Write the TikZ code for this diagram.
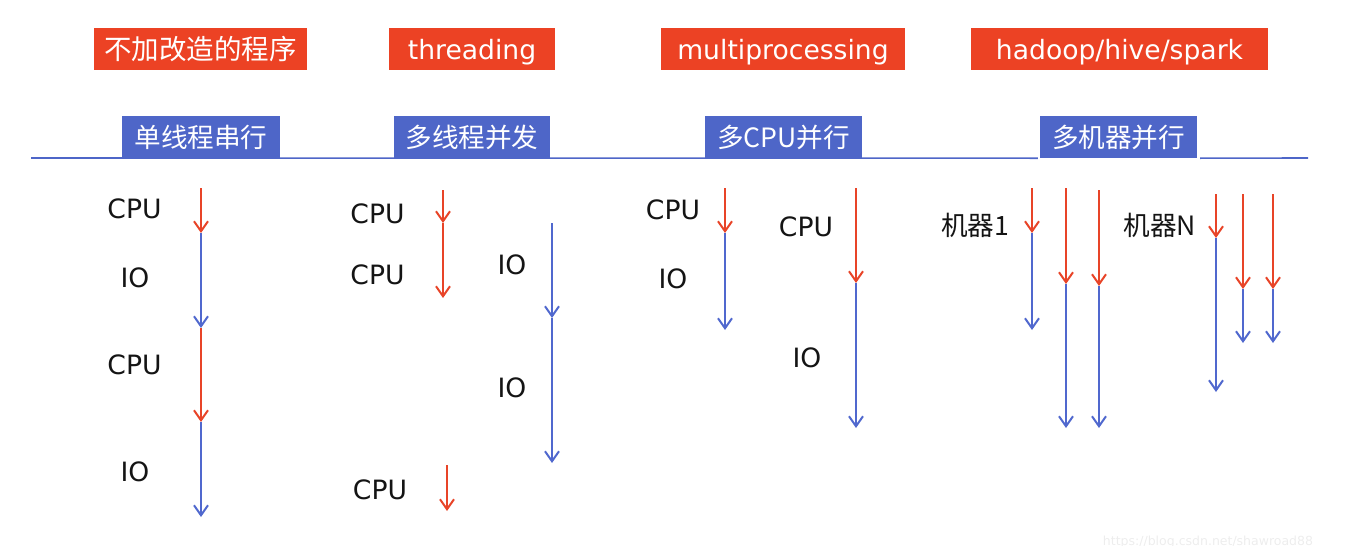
\documentclass[tikz,border=0pt]{standalone}
\usepackage{fontspec}
\setmainfont{DejaVu Sans}
\newfontfamily\cjk{Noto Sans CJK SC}
\usetikzlibrary{arrows.meta,positioning}
\definecolor{tagred}{RGB}{236,66,36}
\definecolor{modeblue}{RGB}{78,102,200}
\definecolor{cpured}{RGB}{232,68,40}
\definecolor{ioblue}{RGB}{80,104,206}
\definecolor{inkgrey}{RGB}{20,20,20}
\tikzset{
  base/.style={font=\fontsize{26.6}{30}\selectfont, inner sep=0pt, text=inkgrey},
  tag/.style={base, rectangle, fill=tagred, text=white, minimum height=42pt, text depth=0pt},
  tagcn/.style={base, rectangle, fill=tagred, text=white, minimum height=42pt, font=\fontsize{27.5}{30}\selectfont\cjk},
  mode/.style={base, rectangle, fill=modeblue, text=white, minimum height=42pt, font=\fontsize{26.6}{30}\selectfont\cjk},
  lbl/.style={base},
  cn/.style={base, font=\fontsize{26.6}{30}\selectfont\cjk},
  tip/.style={-{Straight Barb[length=10pt,width=14pt]}, line width=2pt},
  cpu/.style={tip, draw=cpured},
  io/.style={tip, draw=ioblue},
  rule/.style={draw=modeblue, line width=1.6pt},
  wmark/.style={font=\fontsize{12.5}{14}\selectfont, text=black!7, inner sep=0pt},
}
\begin{document}
\begin{tikzpicture}[x=1pt,y=-1pt]
  \useasboundingbox (0,0) rectangle (1350,546);
  % headers
  \node[tagcn, minimum width=213pt] (t1) at (200.5,49) {不加改造的程序};
  \node[tag, minimum width=166pt] (t2) at (472,49) {threading};
  \node[tag, minimum width=244pt] (t3) at (783,49) {multiprocessing};
  \node[tag, minimum width=297pt] (t4) at (1119.5,49) {hadoop/hive/spark};
  % modes
  \node[mode, minimum width=158pt] (m1) at (201,137) {单线程串行};
  \node[mode, minimum width=156pt] (m2) at (472,137) {多线程并发};
  \node[mode, minimum width=157pt] (m3) at (783.5,137) {多CPU并行};
  \node[mode, minimum width=157pt] (m4) at (1118.5,137) {多机器并行};
  \draw[rule] (31,158) -- ([xshift=-2pt]m4.south west);
  \draw[rule] ([xshift=3pt]m4.south east) -- (1308,158);
  % labels
  \node[lbl] (c1a) at (134.5,209) {CPU};
  \node[lbl] (c1b) at (135,278) {IO};
  \node[lbl] (c1c) at (134.5,365) {CPU};
  \node[lbl] (c1d) at (135,472) {IO};
  \node[lbl] (c2a) at (377.5,214) {CPU};
  \node[lbl] (c2b) at (377.5,275) {CPU};
  \node[lbl] (c2c) at (380,490) {CPU};
  \node[lbl] (c2d) at (512,264.5) {IO};
  \node[lbl] (c2e) at (512,388) {IO};
  \node[lbl] (c3a) at (673,210) {CPU};
  \node[lbl] (c3b) at (673,279) {IO};
  \node[lbl] (c3c) at (806,227) {CPU};
  \node[lbl] (c3d) at (807,358) {IO};
  \node[cn] (c4a) at (975,225) {机器1};
  \node[cn] (c4b) at (1160,225) {机器N};
  % timelines
  \foreach \x/\y/\z/\c in {201/188/233/cpu, 201/233/328/io, 201/328/422/cpu, 201/422/517/io,
      443/190/223/cpu, 443/223/298/cpu, 447/465/511/cpu, 552/223/318/io, 552/318/463/io,
      725/188/233/cpu, 725/233/330/io, 856/188/283/cpu, 856/283/428/io,
      1032/188/233/cpu, 1032/233/330/io, 1066/188/284/cpu, 1066/284/428/io,
      1099/190/286/cpu, 1099/286/428/io, 1216/194/238/cpu, 1216/238/392/io,
      1243/194/289/cpu, 1243/289/343/io, 1273/194/289/cpu, 1273/289/343/io}
    \draw[\c] (\x,\y) -- (\x,\z);
  \node[wmark] (wm) at (1208,542) {https://blog.csdn.net/shawroad88};
\end{tikzpicture}
\end{document}
